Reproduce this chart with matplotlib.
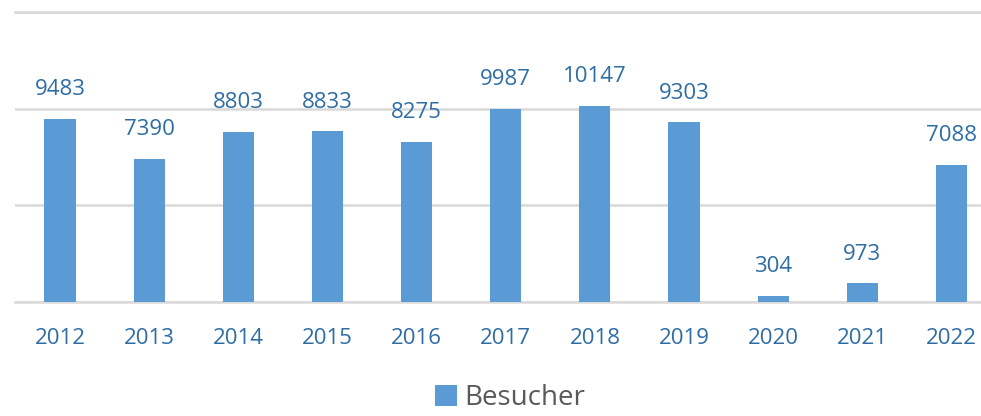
import matplotlib

matplotlib.use("Agg")
import matplotlib.pyplot as plt

# Besucher per year
years = ["2012", "2013", "2014", "2015", "2016", "2017", "2018", "2019", "2020", "2021", "2022"]
visitors = [9483, 7390, 8803, 8833, 8275, 9987, 10147, 9303, 304, 973, 7088]

BAR = "#5B9BD5"
LABEL = "#2E6DA4"
GRID = "#D9D9D9"

plt.rcParams["font.family"] = ["Open Sans", "DejaVu Sans"]

fig = plt.figure(figsize=(9.81, 4.16), dpi=100)
# plot area runs a little past the right edge of the image
ax = fig.add_axes([0.0158, 0.274, 0.9995, 0.697])

x = range(len(years))
bars = ax.bar(x, visitors, width=0.35, color=BAR, label="Besucher", zorder=3)

for rect, v in zip(bars, visitors):
    ax.annotate(
        str(v),
        (rect.get_x() + rect.get_width() / 2, rect.get_height()),
        xytext=(0, 21), textcoords="offset points",
        ha="center", va="center", fontsize=16, color=LABEL,
    )

ax.set_xlim(-0.5, len(years) - 0.5)
ax.set_ylim(0, 15000)
ax.set_yticks([0, 5000, 10000, 15000])
ax.yaxis.grid(True, color=GRID, linewidth=1.8, zorder=0)
ax.axhline(0, color=GRID, linewidth=1.8, zorder=2, clip_on=False)
ax.axhline(15000, color=GRID, linewidth=1.8, zorder=2, clip_on=False)
ax.set_yticklabels([])
ax.tick_params(axis="y", length=0)
ax.set_xticks(list(x))
ax.set_xticklabels(years, fontsize=16, color=LABEL)
ax.tick_params(axis="x", length=0, pad=19)
for s in ax.spines.values():
    s.set_visible(False)

fig.legend(
    loc="lower center", bbox_to_anchor=(0.52, -0.05), frameon=False,
    fontsize=20, labelcolor="#595959", handlelength=0.8, handleheight=0.8,
    handletextpad=0.25,
)

fig.savefig("out.png", dpi=100)
